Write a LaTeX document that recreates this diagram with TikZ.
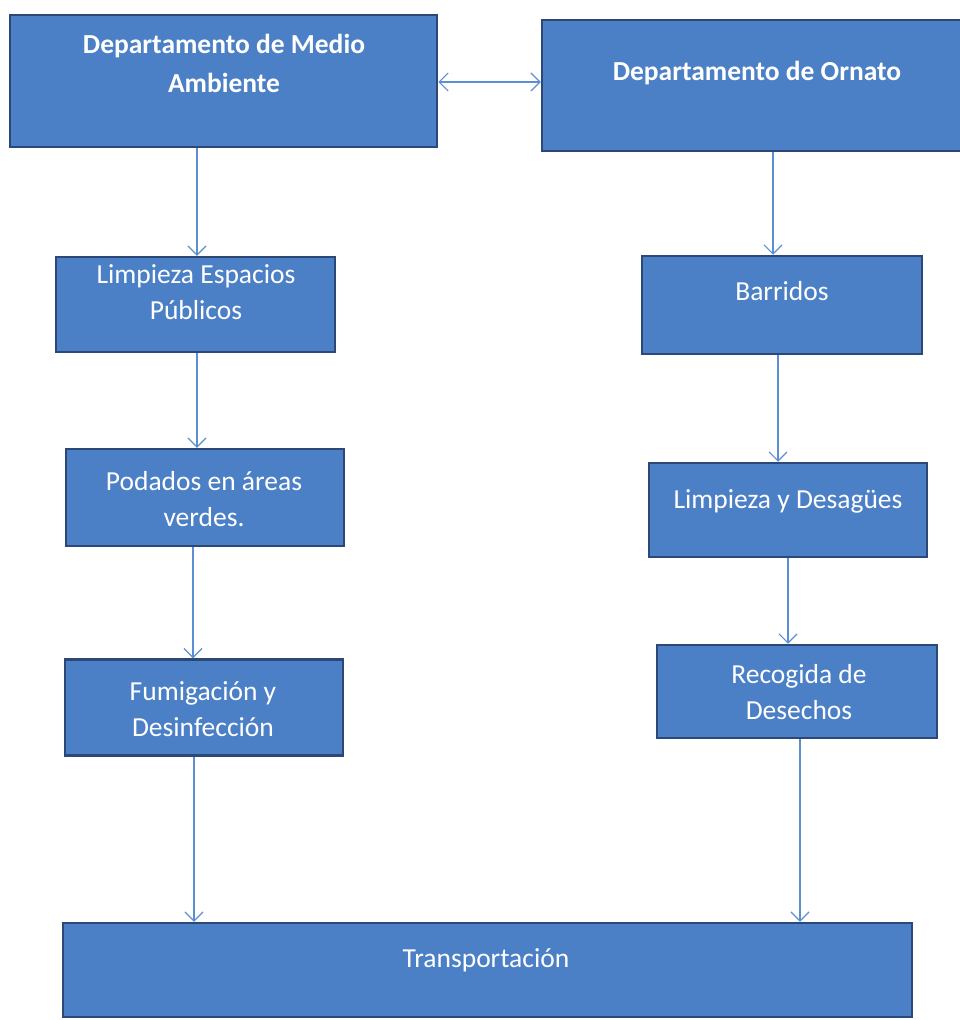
\documentclass[tikz,border=0pt]{standalone}
\usepackage{fontspec}
\setmainfont{Carlito}
\usetikzlibrary{arrows.meta}
\definecolor{boxfill}{RGB}{76,128,198}
\definecolor{boxline}{RGB}{44,72,118}
\definecolor{arrcol}{RGB}{92,142,212}
\tikzset{
  box/.style={draw=boxline, line width=2.5pt, fill=boxfill, rectangle, inner sep=0pt},
  txt/.style={text=white, align=center, inner sep=0pt, anchor=base, font=\fontsize{27.5}{36}\selectfont},
  ttl/.style={text=white, align=center, inner sep=0pt, anchor=base, font=\bfseries\fontsize{27.5}{39}\selectfont},
  arr/.style={draw=arrcol, line width=1.2pt, -{Straight Barb[length=9pt,width=18pt,line width=1.2pt]}},
  darr/.style={draw=arrcol, line width=1.2pt, {Straight Barb[length=9pt,width=18pt,line width=1.2pt]}-{Straight Barb[length=9pt,width=18pt,line width=1.2pt]}}
}
\begin{document}
\begin{tikzpicture}[x=1pt,y=-1pt]
\useasboundingbox (0,0) rectangle (959,1020);
% boxes
\node[box, minimum width=427pt, minimum height=132pt] (b1) at (223.5,81) {};
\node[box, minimum width=420pt, minimum height=131pt] (b2) at (752,85.5) {};
\node[box, minimum width=279pt, minimum height=95pt] (b4) at (195.5,304.5) {};
\node[box, minimum width=280pt, minimum height=98pt] (b5) at (782,305) {};
\node[box, minimum width=278pt, minimum height=97pt] (b6) at (205,497.5) {};
\node[box, minimum width=278pt, minimum height=94pt] (b7) at (788,510) {};
\node[box, minimum width=278pt, minimum height=96pt] (b8) at (204,707.5) {};
\node[box, minimum width=280pt, minimum height=93pt] (b9) at (797,691.5) {};
\node[box, minimum width=849pt, minimum height=94pt] (b10) at (487.5,970) {};
% texts (base = baseline of the last line)
\node[ttl] (t1) at (224,92) {Departamento de Medio\\Ambiente};
\node[ttl] (t2) at (757,80) {Departamento de Ornato};
\node[txt] (t4) at (196,319) {Limpieza Espacios\\Públicos};
\node[txt] (t5) at (782,300) {Barridos};
\node[txt] (t6) at (204,526) {Podados en áreas\\verdes.};
\node[txt] (t7) at (788,508) {Limpieza y Desagües};
\node[txt] (t8) at (203,736) {Fumigación y\\Desinfección};
\node[txt] (t9) at (799,719) {Recogida de\\Desechos};
\node[txt] (t10) at (486,967) {Transportación};
% connectors
\coordinate (cm) at (0,82);
\draw[darr] (b1.east |- cm) -- (b2.west |- cm);
\coordinate (x1) at (197,0);
\coordinate (x2) at (773,0);
\coordinate (x3) at (197,0);
\coordinate (x4) at (778,0);
\coordinate (x5) at (193,0);
\coordinate (x6) at (788,0);
\coordinate (x7) at (194,0);
\coordinate (x8) at (800,0);
\draw[arr] (x1 |- b1.south) -- (x1 |- b4.north);
\draw[arr] (x2 |- b2.south) -- (x2 |- b5.north);
\draw[arr] (x3 |- b4.south) -- (x3 |- b6.north);
\draw[arr] (x4 |- b5.south) -- (x4 |- b7.north);
\draw[arr] (x5 |- b6.south) -- (x5 |- b8.north);
\draw[arr] (x6 |- b7.south) -- (x6 |- b9.north);
\draw[arr] (x7 |- b8.south) -- (x7 |- b10.north);
\draw[arr] (x8 |- b9.south) -- (x8 |- b10.north);
\end{tikzpicture}
\end{document}
